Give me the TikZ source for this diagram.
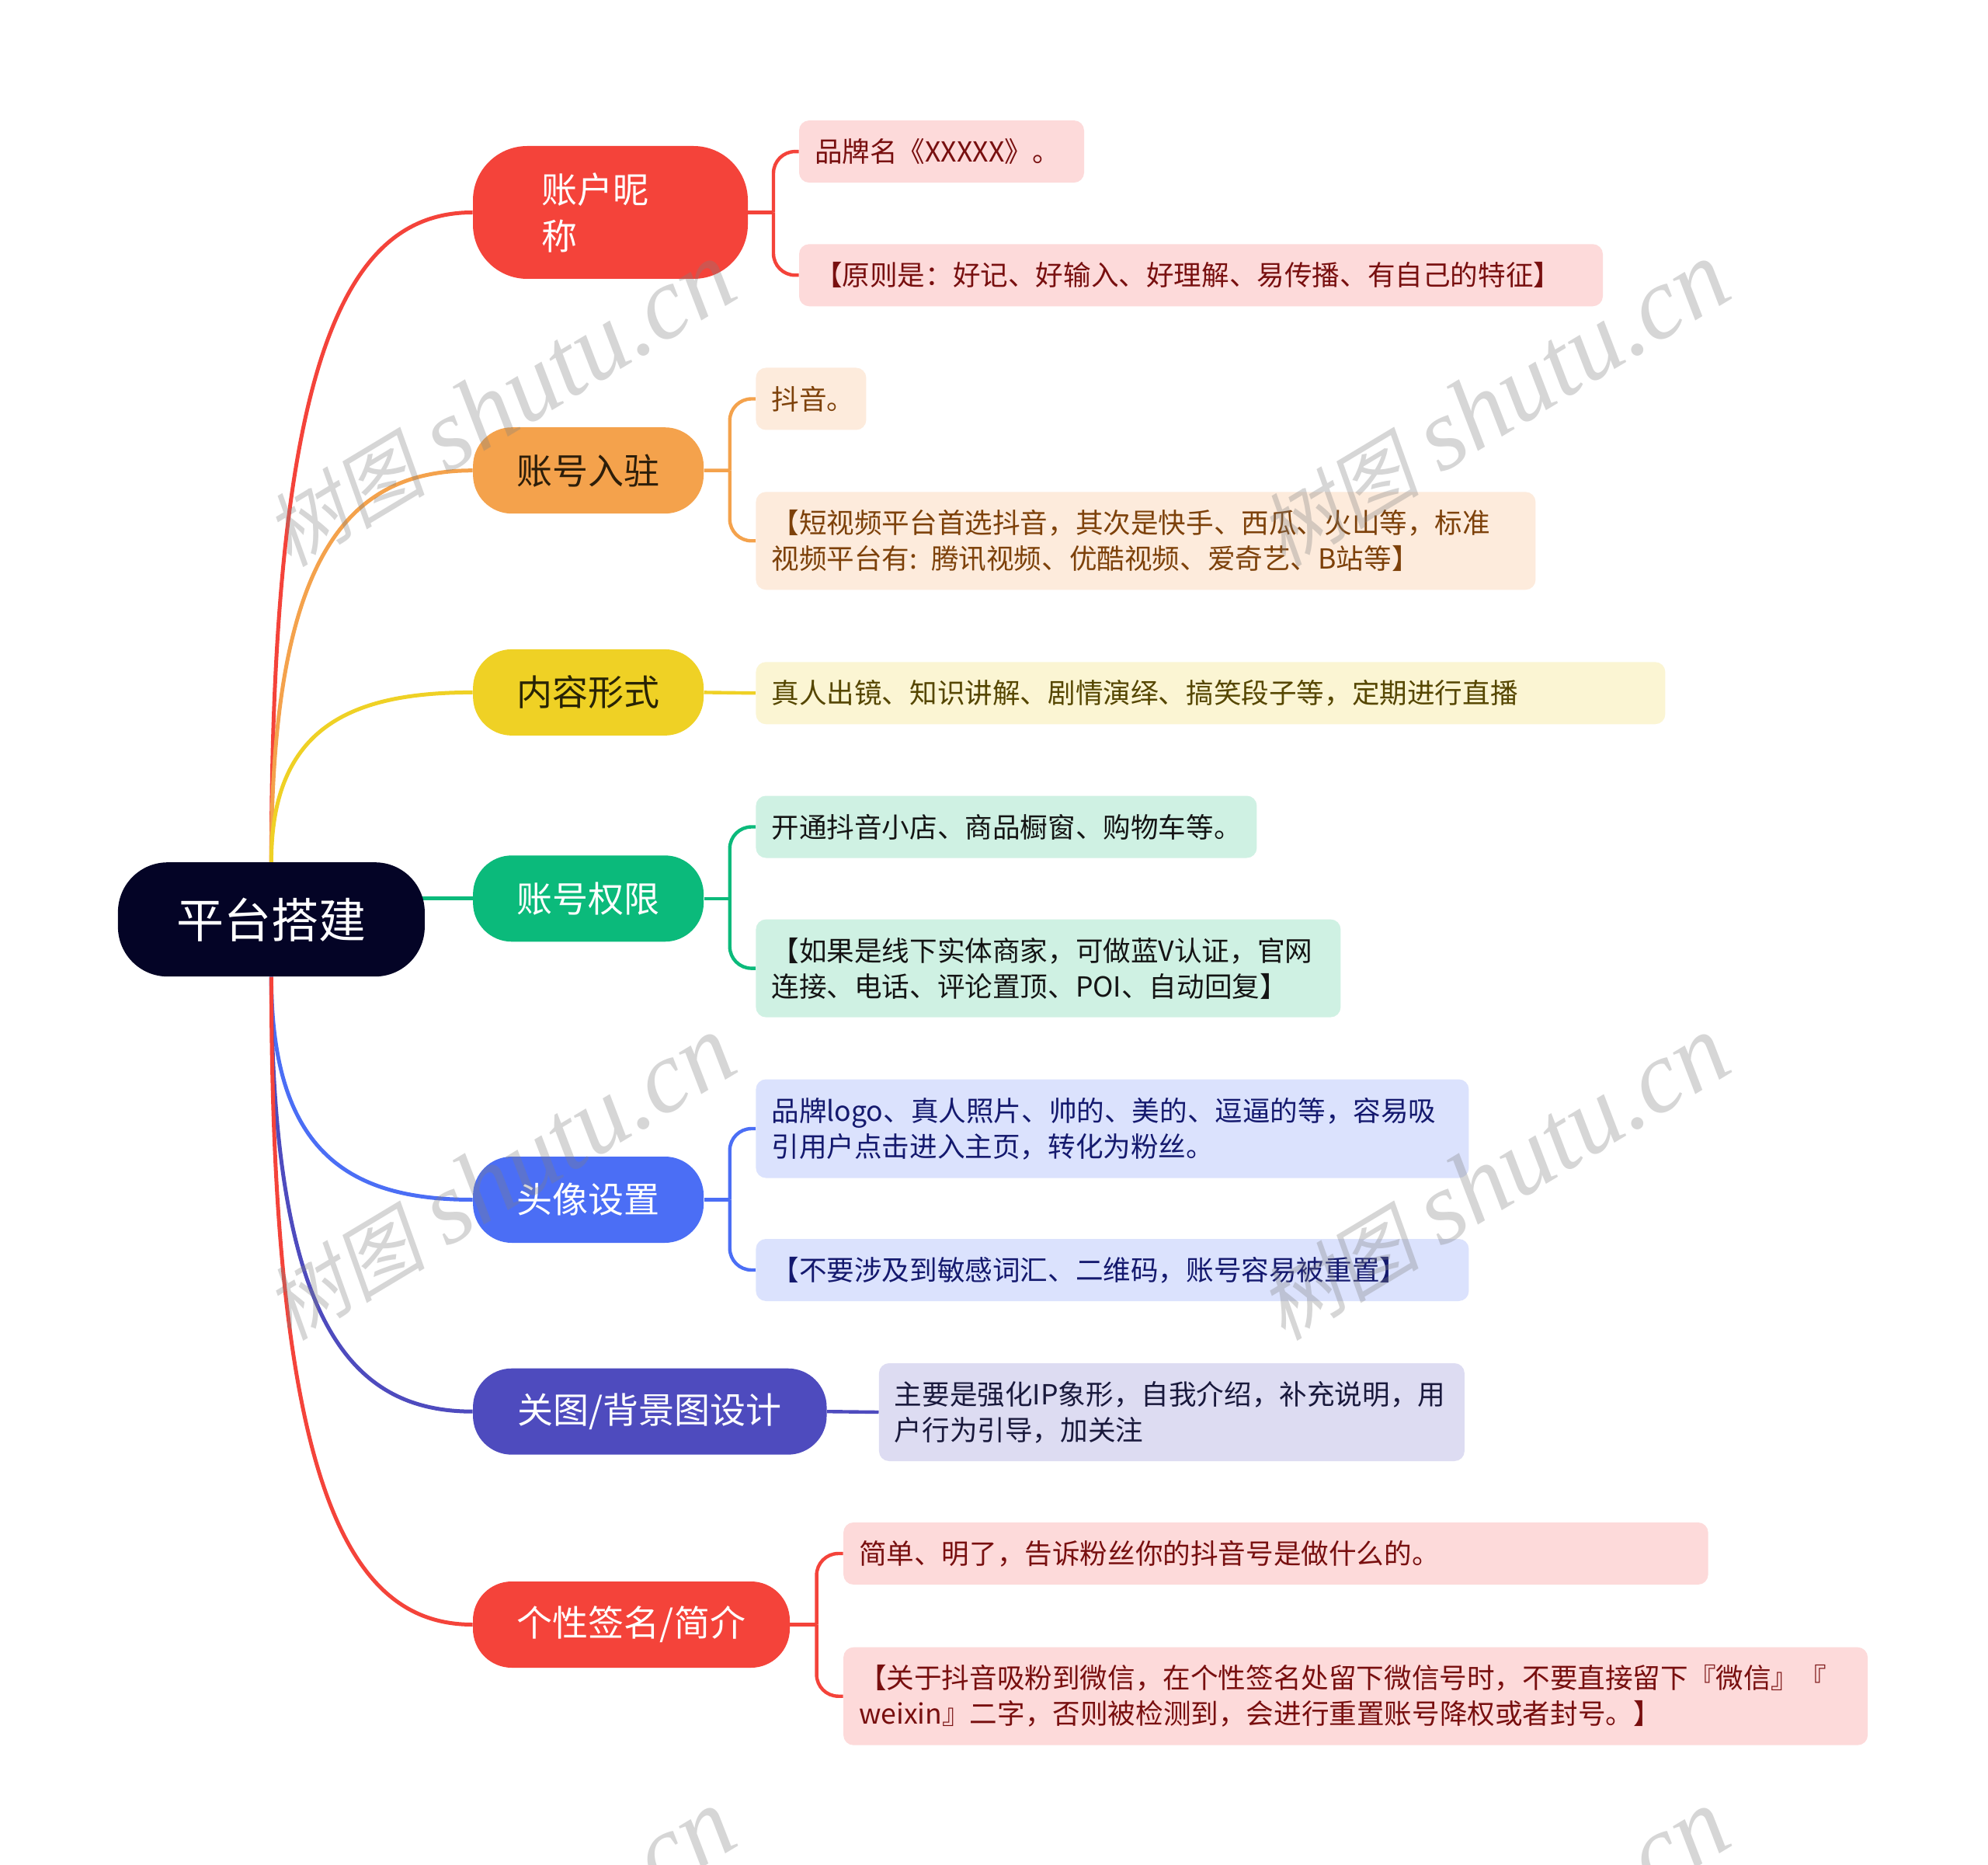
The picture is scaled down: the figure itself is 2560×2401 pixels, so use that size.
\documentclass[tikz,border=0pt]{standalone}
\usepackage{fontspec}
\setmainfont{Noto Sans CJK SC}
\newfontfamily\wmcjk[FakeSlant=0.2]{Noto Sans CJK SC}
\newfontfamily\wmlatin{Liberation Serif}
\usetikzlibrary{calc,backgrounds}
\definecolor{cRoot}{RGB}{4,4,38}
\definecolor{cRed}{RGB}{244,67,58}
\definecolor{cOrange}{RGB}{244,162,76}
\definecolor{cYellow}{RGB}{239,209,37}
\definecolor{cGreen}{RGB}{11,186,123}
\definecolor{cBlue}{RGB}{75,110,245}
\definecolor{cIndigo}{RGB}{78,75,190}
\definecolor{fRed}{RGB}{253,218,218}
\definecolor{fOrange}{RGB}{253,235,220}
\definecolor{fYellow}{RGB}{251,245,211}
\definecolor{fGreen}{RGB}{207,241,227}
\definecolor{fBlue}{RGB}{219,226,253}
\definecolor{fIndigo}{RGB}{221,220,242}
\definecolor{tRed}{RGB}{120,15,15}
\definecolor{tOrange}{RGB}{125,65,10}
\definecolor{tYellow}{RGB}{85,70,0}
\definecolor{tGreen}{RGB}{20,20,20}
\definecolor{tBlue}{RGB}{20,25,110}
\definecolor{tIndigo}{RGB}{25,25,60}
\definecolor{bOrangeT}{RGB}{45,30,10}
\definecolor{bYellowT}{RGB}{40,35,5}
\pgfdeclarelayer{bottom}
\pgfsetlayers{bottom,background,main}
\newcommand{\leaffont}{\fontsize{17.8pt}{23pt}\selectfont}
\newcommand{\branchfont}{\fontsize{23pt}{30pt}\selectfont}
\tikzset{
  rootnode/.style={fill=cRoot, text=white, rounded corners=32pt, minimum width=197.5pt,
    minimum height=73.5pt, inner sep=0pt, font=\fontsize{30.5pt}{36pt}\selectfont},
  branch/.style n args={3}{fill=#1, text=#2, rounded corners=25pt, minimum width=#3,
    minimum height=55.5pt, inner sep=0pt, font=\branchfont},
  leaf/.style n args={3}{fill=#1, text=#2, rounded corners=6.5pt, anchor=west, align=left,
    inner xsep=10pt, inner ysep=0pt, minimum height=40pt, text width=#3, font=\leaffont},
  conn/.style={draw=#1, line width=2.5pt},
  subconn/.style={draw=#1, line width=2.2pt, rounded corners=14pt},
  wm/.style={rotate=31, text=gray, text opacity=0.32, inner sep=0pt}
}
\newcommand{\wmtext}{{\wmcjk\fontsize{52pt}{52pt}\selectfont 树图}\hspace{14pt}{\wmlatin\itshape\fontsize{66pt}{66pt}\selectfont shutu.cn}}
\begin{document}
\begin{tikzpicture}[x=0.5pt,y=-0.5pt]
\useasboundingbox (0,0) rectangle (2560,2401);
\clip (0,0) rectangle (2560,2401);
\begin{pgfonlayer}{bottom}
\fill[white] (0,0) rectangle (2560,2401);
\end{pgfonlayer}

% root
\node[rootnode] (root) at (349.4,1183.7) {平台搭建};

% branches
\node[branch={cRed}{white}{177pt}, minimum height=85.5pt, rounded corners=35pt,
  align=left, text width=89pt, inner xsep=44pt] (b1) at (786,273.5) {账户昵\\称};
\node[branch={cOrange}{bOrangeT}{148.5pt}] (b2) at (757.6,605.7) {账号入驻};
\node[branch={cYellow}{bYellowT}{148.5pt}] (b3) at (757.6,891.4) {内容形式};
\node[branch={cGreen}{white}{148.5pt}] (b4) at (757.6,1156.8) {账号权限};
\node[branch={cBlue}{white}{148.5pt}] (b5) at (757.6,1544.5) {头像设置};
\node[branch={cIndigo}{white}{227.75pt}] (b6) at (836.8,1817.2) {关图/背景图设计};
\node[branch={cRed}{white}{204pt}] (b7) at (813,2091.5) {个性签名/简介};

% leaves
\node[leaf={fRed}{tRed}{163.5pt}] (l1a) at (1028.6,195.1) {品牌名《XXXXX》。};
\node[leaf={fRed}{tRed}{497.5pt}] (l1b) at (1028.6,354.3) {【原则是：好记、好输入、好理解、易传播、有自己的特征】};
\node[leaf={fOrange}{tOrange}{51pt}] (l2a) at (973,513.5) {抖音。};
\node[leaf={fOrange}{tOrange}{482pt}, minimum height=63pt] (l2b) at (973,696.3) {【短视频平台首选抖音，其次是快手、西瓜、火山等，标准\\视频平台有: 腾讯视频、优酷视频、爱奇艺、B站等】};
\node[leaf={fYellow}{tYellow}{565.5pt}] (l3a) at (973,892.3) {真人出镜、知识讲解、剧情演绎、搞笑段子等，定期进行直播};
\node[leaf={fGreen}{tGreen}{302.5pt}] (l4a) at (973,1064.5) {开通抖音小店、商品橱窗、购物车等。};
\node[leaf={fGreen}{tGreen}{356.5pt}, minimum height=63pt] (l4b) at (973,1246.6) {【如果是线下实体商家，可做蓝V认证，官网\\连接、电话、评论置顶、POI、自动回复】};
\node[leaf={fBlue}{tBlue}{439pt}, minimum height=63.5pt] (l5a) at (973,1453) {品牌logo、真人照片、帅的、美的、逗逼的等，容易吸\\引用户点击进入主页，转化为粉丝。};
\node[leaf={fBlue}{tBlue}{439pt}] (l5b) at (973,1635) {【不要涉及到敏感词汇、二维码，账号容易被重置】};
\node[leaf={fIndigo}{tIndigo}{357pt}, minimum height=63pt] (l6a) at (1131.5,1818) {主要是强化IP象形，自我介绍，补充说明，用\\户行为引导，加关注};
\node[leaf={fRed}{tRed}{536.75pt}] (l7a) at (1085.7,2000) {简单、明了，告诉粉丝你的抖音号是做什么的。};
\node[leaf={fRed}{tRed}{639.5pt}, minimum height=63pt] (l7b) at (1085.7,2183.7) {【关于抖音吸粉到微信，在个性签名处留下微信号时，不要直接留下『微信』『\\weixin』二字，否则被检测到，会进行重置账号降权或者封号。】};

\begin{scope}[on background layer]
% root to branches (upper)
\foreach \b/\c in {b1/cRed, b2/cOrange, b3/cYellow}{
  \draw[conn=\c] (root.north) .. controls ($(root.north)!0.8!(root.north|-\b.west)$)
     and ($(\b.west)!0.6!(root.north|-\b.west)$) .. (\b.west);
}
\draw[conn=cGreen] (root.center|-b4.west) -- (b4.west);
\foreach \b/\c in {b5/cBlue, b6/cIndigo, b7/cRed}{
  \draw[conn=\c] (root.south) .. controls ($(root.south)!0.8!(root.south|-\b.west)$)
     and ($(\b.west)!0.6!(root.south|-\b.west)$) .. (\b.west);
}
% branch to leaves
\coordinate (m1) at ($(b1.east)!0.5!(b1.east-|l1a.west)$);
\draw[subconn=cRed] (b1.east) -- (m1);
\draw[subconn=cRed] (m1) |- (l1a.west);
\draw[subconn=cRed] (m1) |- (l1b.west);
\coordinate (m2) at ($(b2.east)!0.5!(b2.east-|l2a.west)$);
\draw[subconn=cOrange] (b2.east) -- (m2);
\draw[subconn=cOrange] (m2) |- (l2a.west);
\draw[subconn=cOrange] (m2) |- (l2b.west);
\draw[subconn=cYellow] (b3.east) -- (l3a.west);
\coordinate (m4) at ($(b4.east)!0.5!(b4.east-|l4a.west)$);
\draw[subconn=cGreen] (b4.east) -- (m4);
\draw[subconn=cGreen] (m4) |- (l4a.west);
\draw[subconn=cGreen] (m4) |- (l4b.west);
\coordinate (m5) at ($(b5.east)!0.5!(b5.east-|l5a.west)$);
\draw[subconn=cBlue] (b5.east) -- (m5);
\draw[subconn=cBlue] (m5) |- (l5a.west);
\draw[subconn=cBlue] (m5) |- (l5b.west);
\draw[subconn=cIndigo] (b6.east) -- (l6a.west);
\coordinate (m7) at ($(b7.east)!0.5!(b7.east-|l7a.west)$);
\draw[subconn=cRed] (b7.east) -- (m7);
\draw[subconn=cRed] (m7) |- (l7a.west);
\draw[subconn=cRed] (m7) |- (l7b.west);
\end{scope}

% watermarks
\node[wm] (w1) at (643,521) {\wmtext};
\node[wm] (w2) at (1923,521) {\wmtext};
\node[wm] (w3) at (643,1517) {\wmtext};
\node[wm] (w4) at (1923,1517) {\wmtext};
\node[wm] (w5) at (643,2513) {\wmtext};
\node[wm] (w6) at (1923,2513) {\wmtext};
\end{tikzpicture}
\end{document}
